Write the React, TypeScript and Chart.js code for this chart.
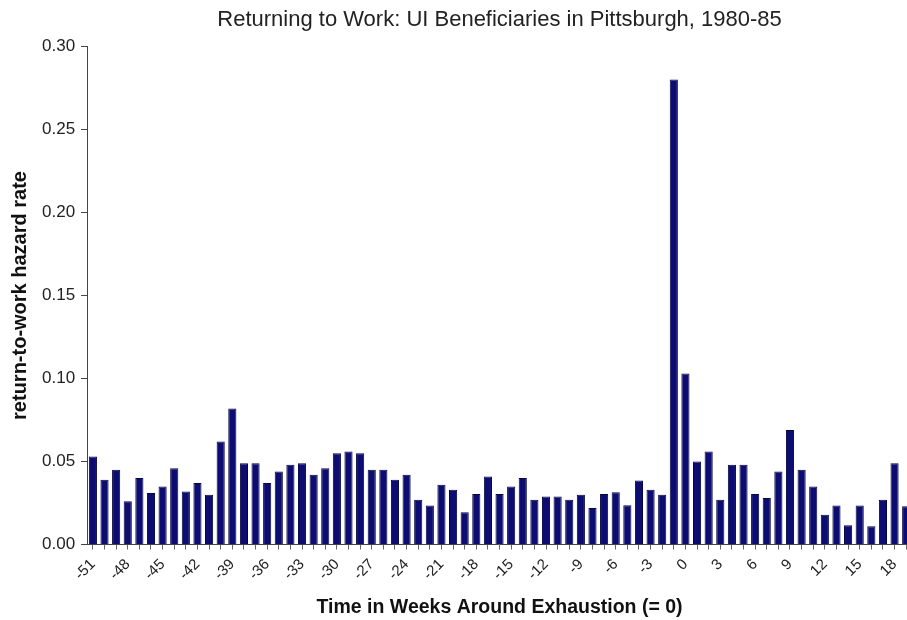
import React, { useEffect, useRef } from "react";
import { Chart, registerables } from "chart.js";

Chart.register(...registerables);

const weeks: number[] = [];
for (let w = -51; w <= 19; w++) weeks.push(w);

const hazardRate: number[] = [
  // -51 .. -42
  0.053, 0.039, 0.045, 0.026, 0.040, 0.031, 0.035, 0.046, 0.032, 0.037,
  // -41 .. -32
  0.030, 0.062, 0.082, 0.049, 0.049, 0.037, 0.044, 0.048, 0.049, 0.042,
  // -31 .. -22
  0.046, 0.055, 0.056, 0.055, 0.045, 0.045, 0.039, 0.042, 0.027, 0.0235,
  // -21 .. -12
  0.036, 0.033, 0.0195, 0.0305, 0.041, 0.0305, 0.035, 0.040, 0.027, 0.029,
  // -11 .. -2
  0.029, 0.027, 0.030, 0.022, 0.0305, 0.0315, 0.0237, 0.0386, 0.033, 0.030,
  // -1 .. 8
  0.280, 0.103, 0.050, 0.056, 0.027, 0.048, 0.048, 0.0305, 0.028, 0.044,
  // 9 .. 19
  0.069, 0.045, 0.035, 0.018, 0.0235, 0.0116, 0.0235, 0.011, 0.027, 0.049, 0.023,
];

const titleText = "Returning to Work: UI Beneficiaries in Pittsburgh, 1980-85";
const xTitle = "Time in Weeks Around Exhaustion (= 0)";
const yTitle = "return-to-work hazard rate";

export default function App() {
  const ref = useRef<HTMLCanvasElement | null>(null);
  useEffect(() => {
    if (!ref.current) return;
    const chart = new Chart(ref.current, {
      type: "bar",
      data: {
        labels: weeks.map(String),
        datasets: [
          {
            data: hazardRate,
            backgroundColor: "#0c0c72",
            borderColor: "#05053f",
            borderWidth: 1,
            barPercentage: 0.7,
            categoryPercentage: 1,
          },
        ],
      },
      options: {
        animation: false,
        responsive: false,
        maintainAspectRatio: false,
        layout: { padding: { left: 8, right: 0, top: 0, bottom: 1 } },
        plugins: {
          legend: { display: false },
          tooltip: { enabled: false },
          title: {
            display: true,
            fullSize: false,
            text: titleText,
            color: "#222",
            font: { family: "Liberation Sans, Arial", size: 22, weight: "normal" },
            padding: { top: 7, bottom: 13 },
          },
        },
        scales: {
          x: {
            offset: true,
            grid: {
              display: true,
              drawOnChartArea: false,
              drawTicks: true,
              tickLength: 5,
              color: "#666",
              offset: false,
            },
            border: { display: true, color: "#444", width: 1 },
            ticks: {
              autoSkip: false,
              maxRotation: 45,
              minRotation: 45,
              color: "#222",
              font: { family: "Liberation Sans, Arial", size: 15 },
              padding: 6,
              callback: (_v: any, i: number) => (weeks[i] % 3 === 0 ? String(weeks[i]) : ""),
            },
            title: {
              display: true,
              text: xTitle,
              color: "#111",
              font: { family: "Liberation Sans, Arial", size: 19.5, weight: "bold" },
              padding: { top: 6, bottom: 0 },
            },
          },
          y: {
            min: 0,
            max: 0.3,
            grid: {
              display: true,
              drawOnChartArea: false,
              drawTicks: true,
              tickLength: 6,
              color: "#444",
            },
            border: { display: true, color: "#444", width: 1 },
            ticks: {
              stepSize: 0.05,
              color: "#222",
              font: { family: "Liberation Sans, Arial", size: 17 },
              padding: 6,
              callback: (v: any) => Number(v).toFixed(2),
            },
            title: {
              display: true,
              text: yTitle,
              color: "#111",
              font: { family: "Liberation Sans, Arial", size: 20, weight: "bold" },
              padding: { top: 0, bottom: 4 },
            },
          },
        },
      },
    });
    return () => chart.destroy();
  }, []);
  return (
    <div
      style={{
        position: "fixed",
        left: 0,
        top: 0,
        width: 907,
        height: 620,
        overflow: "hidden",
        background: "#fff",
      }}
    >
      <canvas ref={ref} width={925} height={620} style={{ display: "block" }} />
    </div>
  );
}
